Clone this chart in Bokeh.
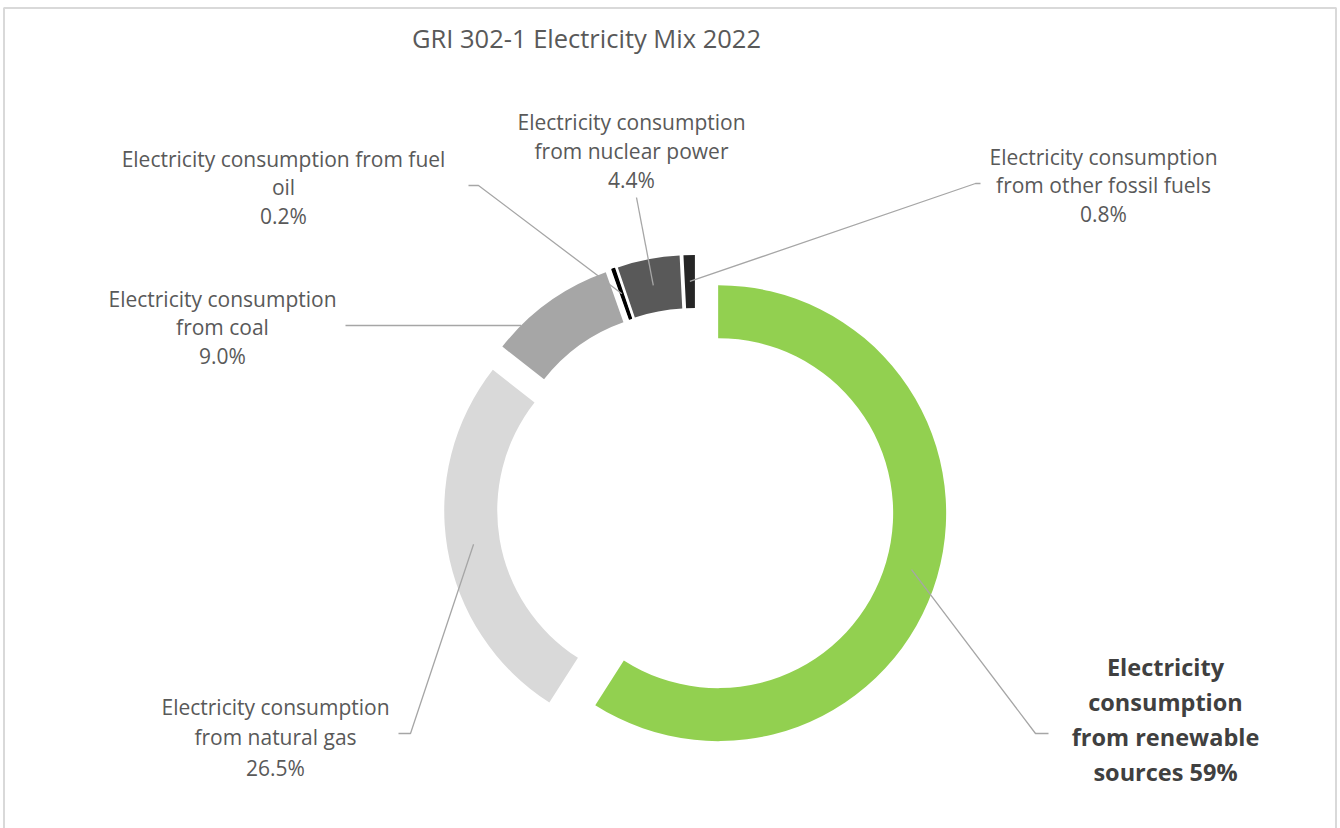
import numpy as np
from bokeh.plotting import figure
from bokeh.models import Range1d, ColumnDataSource
from bokeh.core.properties import value
from bokeh.embed import file_html
from bokeh.resources import INLINE

# ---------------- data ----------------
categories = [
    "Electricity consumption from renewable sources",
    "Electricity consumption from natural gas",
    "Electricity consumption from coal",
    "Electricity consumption from fuel oil",
    "Electricity consumption from nuclear power",
    "Electricity consumption from other fossil fuels",
]
values = [59.0, 26.5, 9.0, 0.2, 4.4, 0.8]
colors = ["#92D050", "#D9D9D9", "#A6A6A6", "#000000", "#595959", "#262626"]
label_lines = [
    ["Electricity", "consumption", "from renewable", "sources 59%"],
    ["Electricity consumption", "from natural gas", "26.5%"],
    ["Electricity consumption", "from coal", "9.0%"],
    ["Electricity consumption from fuel", "oil", "0.2%"],
    ["Electricity consumption", "from nuclear power", "4.4%"],
    ["Electricity consumption", "from other fossil fuels", "0.8%"],
]
title_text = "GRI 302-1 Electricity Mix 2022"

# ---------------- layout ----------------
W, H = 1340, 828
def Y(sy):  # screen y -> data y
    return H - sy

CX, CY = 695.0, Y(506.0)
R_OUT, R_IN, EXPLODE = 228.0, 175.0, 23.6
FONT = "Open Sans"
TXT = "#595959"
LEAD = "#A6A6A6"

# label block: (center x, first line center y (screen), line spacing, font size, bold)
label_layout = [
    (1165, 666, 35, "23.5px", True),
    (275, 706, 30.5, "21px", False),
    (222, 298, 28.5, "21px", False),
    (283, 158, 28.5, "21px", False),
    (631, 121, 29, "21px", False),
    (1103, 156, 28.5, "21px", False),
]
# leader: (end point (screen), elbow point (screen))
leader_layout = [
    ((1048, 733), (1035, 733)),
    ((398, 733), (410, 733)),
    ((345, 325), (345, 325)),
    ((468, 185), (478, 185)),
    ((636, 197), (636, 197)),
    ((980, 183), (975, 183)),
]

# ---------------- geometry ----------------
vals = np.array(values, dtype=float)
fr = vals / vals.sum()
cum = np.concatenate([[0.0], np.cumsum(fr)])
start = np.pi / 2 - cum[:-1] * 2 * np.pi
end = np.pi / 2 - cum[1:] * 2 * np.pi
mid = (start + end) / 2
xs = CX + EXPLODE * np.cos(mid)
ys = CY + EXPLODE * np.sin(mid)

p = figure(width=W, height=H, x_range=Range1d(0, W), y_range=Range1d(0, H),
           output_backend="svg", toolbar_location=None, min_border=0,
           background_fill_color="white", border_fill_color="white")
p.axis.visible = False
p.grid.visible = False
p.outline_line_color = None

# chart border
p.quad(left=[3.5], right=[1335.5], top=[Y(7.5)], bottom=[-10], fill_color=None,
       line_color="#D9D9D9", line_width=2)

src = ColumnDataSource(dict(x=xs, y=ys, start=start, end=end, color=colors, cat=categories))
p.annular_wedge(x="x", y="y", inner_radius=R_IN, outer_radius=R_OUT,
                start_angle="start", end_angle="end", direction="clock",
                fill_color="color", line_color=None, source=src)
# fuel oil outline so the thin slice is visible
i_fo = 3
p.annular_wedge(x=[xs[i_fo]], y=[ys[i_fo]], inner_radius=R_IN, outer_radius=R_OUT,
                start_angle=[start[i_fo]], end_angle=[end[i_fo]], direction="clock",
                fill_color="#000000", line_color="#000000", line_width=1.2)

# leader lines
RM = (R_IN + R_OUT) / 2
lx, ly = [], []
for i in range(len(values)):
    (ex, ey), (bx, by) = leader_layout[i]
    if i == 2:
        dy = Y(by) - ys[i]
        sx = xs[i] - np.sqrt(R_OUT ** 2 - dy ** 2)
        sy = Y(by)
    else:
        sx = xs[i] + RM * np.cos(mid[i])
        sy = ys[i] + RM * np.sin(mid[i])
    lx.append([ex, bx, sx])
    ly.append([Y(ey), Y(by), sy])
p.multi_line(xs=lx, ys=ly, line_color=LEAD, line_width=1.3)

# labels
for i, lines in enumerate(label_lines):
    cx, y0, sp, fs, bold = label_layout[i]
    n = len(lines)
    p.text(x=[cx] * n, y=[Y(y0 + k * sp) for k in range(n)], text=lines,
           text_font=value(FONT), text_font_size=fs,
           text_font_style="bold" if bold else "normal",
           text_color="#404040" if bold else TXT,
           text_align="center", text_baseline="middle")

# title
p.text(x=[586], y=[Y(37)], text=[title_text], text_font=value(FONT),
       text_font_size="25.5px", text_color=TXT, text_align="center", text_baseline="middle")

open("out.html", "w").write(file_html(p, INLINE))
